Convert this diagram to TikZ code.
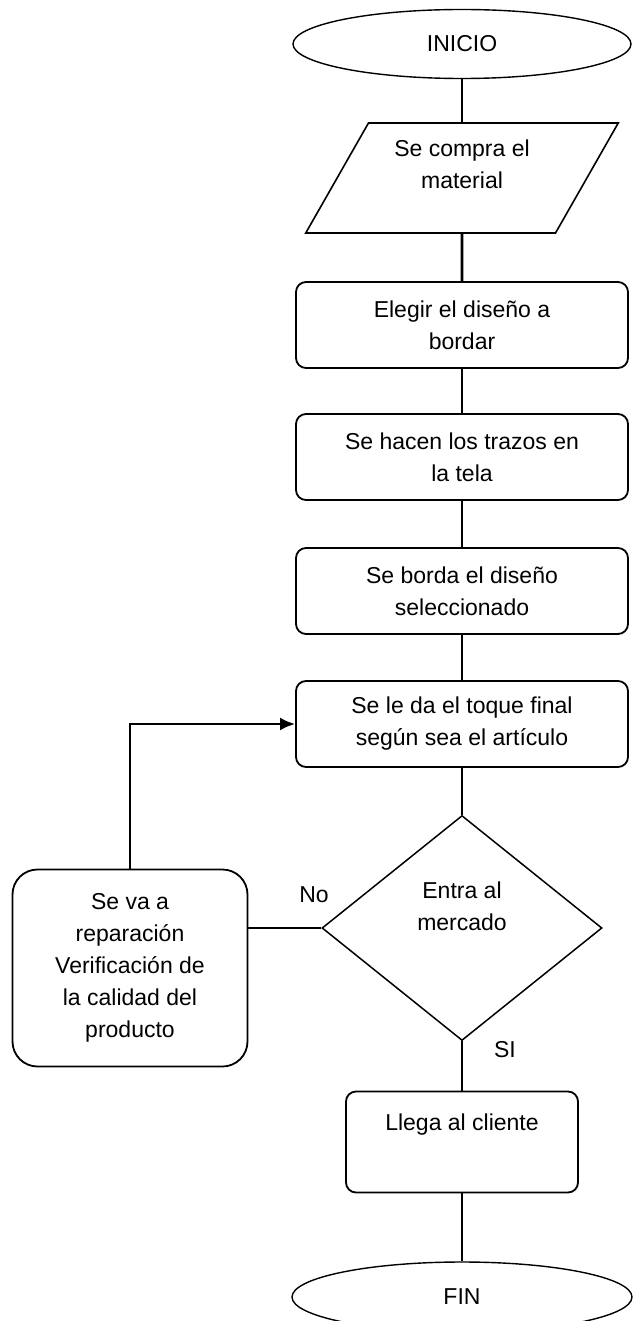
\documentclass[tikz,border=0pt]{standalone}
\usepackage{fontspec}
\setmainfont{Liberation Sans}
\usetikzlibrary{shapes.geometric,arrows.meta}

\begin{document}
\begin{tikzpicture}[x=1pt,y=-1pt]
	\tikzset{every node/.style = {font=\fontsize{23}{32}\selectfont},
		caja/.style = {shape=rectangle, draw, rounded corners=10pt, line width=1.8pt, align=center, inner sep=0pt, minimum width=332pt, minimum height=86pt},
		terminal/.style = {shape=ellipse, draw, line width=1.4pt, inner sep=0pt, minimum width=338pt, minimum height=69pt},
		linea/.style = {line width=2.6pt}}
	\newcommand\colx{462}
	\useasboundingbox (0,0) rectangle (634,1321);
	\node[terminal] (inicio) at (\colx,44) {INICIO};
	\node[shape=trapezium, trapezium left angle=61, trapezium right angle=119, trapezium stretches=true, draw, line width=1.6pt, align=center, inner sep=0pt, minimum width=313pt, minimum height=110pt, text height=52pt, text depth=30pt] (material) at (\colx,178) {Se compra el\\material};
	\foreach \n/\y/\t in {eleccion/325/{Elegir el diseño a\\bordar}, trazos/457/{Se hacen los trazos en\\la tela},
		bordado/591/{Se borda el diseño\\seleccionado}, acabado/724/{Se le da el toque final\\según sea el artículo}}{
		\node[caja] (\n) at (\colx,\y) {\t};
	}
	\node[shape=diamond, draw, line width=1.5pt, align=center, inner sep=0pt, minimum width=280pt, minimum height=225pt, text height=52pt, text depth=48pt] (decision) at (\colx,928) {Entra al\\mercado};
	\node[caja, rounded corners=25pt, minimum width=235pt, minimum height=197pt] (reparacion) at (130,968) {Se va a\\reparación\\Verificación de\\la calidad del\\producto};
	\node[caja, minimum width=232pt, minimum height=101pt, text height=17pt, text depth=41pt] (llega) at (\colx,1142) {Llega al cliente};
	\node[terminal, minimum width=340pt, minimum height=70pt] (fin) at (\colx,1297) {FIN};
	\node (no) at (314,895) {No};
	\node (si) at (505,1050) {SI};
	\draw[linea] (inicio) -- (material);
	\draw[linea] (material) -- (eleccion);
	\draw[linea] (eleccion) -- (trazos);
	\draw[linea] (trazos) -- (bordado);
	\draw[linea] (bordado) -- (acabado);
	\draw[linea] (acabado) -- (decision);
	\draw[linea] (decision) -- (llega);
	\draw[linea] (llega) -- (fin);
	\draw[linea] (decision.west) -- (decision.west -| reparacion.east);
	\draw[linea, -{Latex[length=15pt,width=13pt]}] (reparacion.north) |- (acabado.west);
\end{tikzpicture}
\end{document}
